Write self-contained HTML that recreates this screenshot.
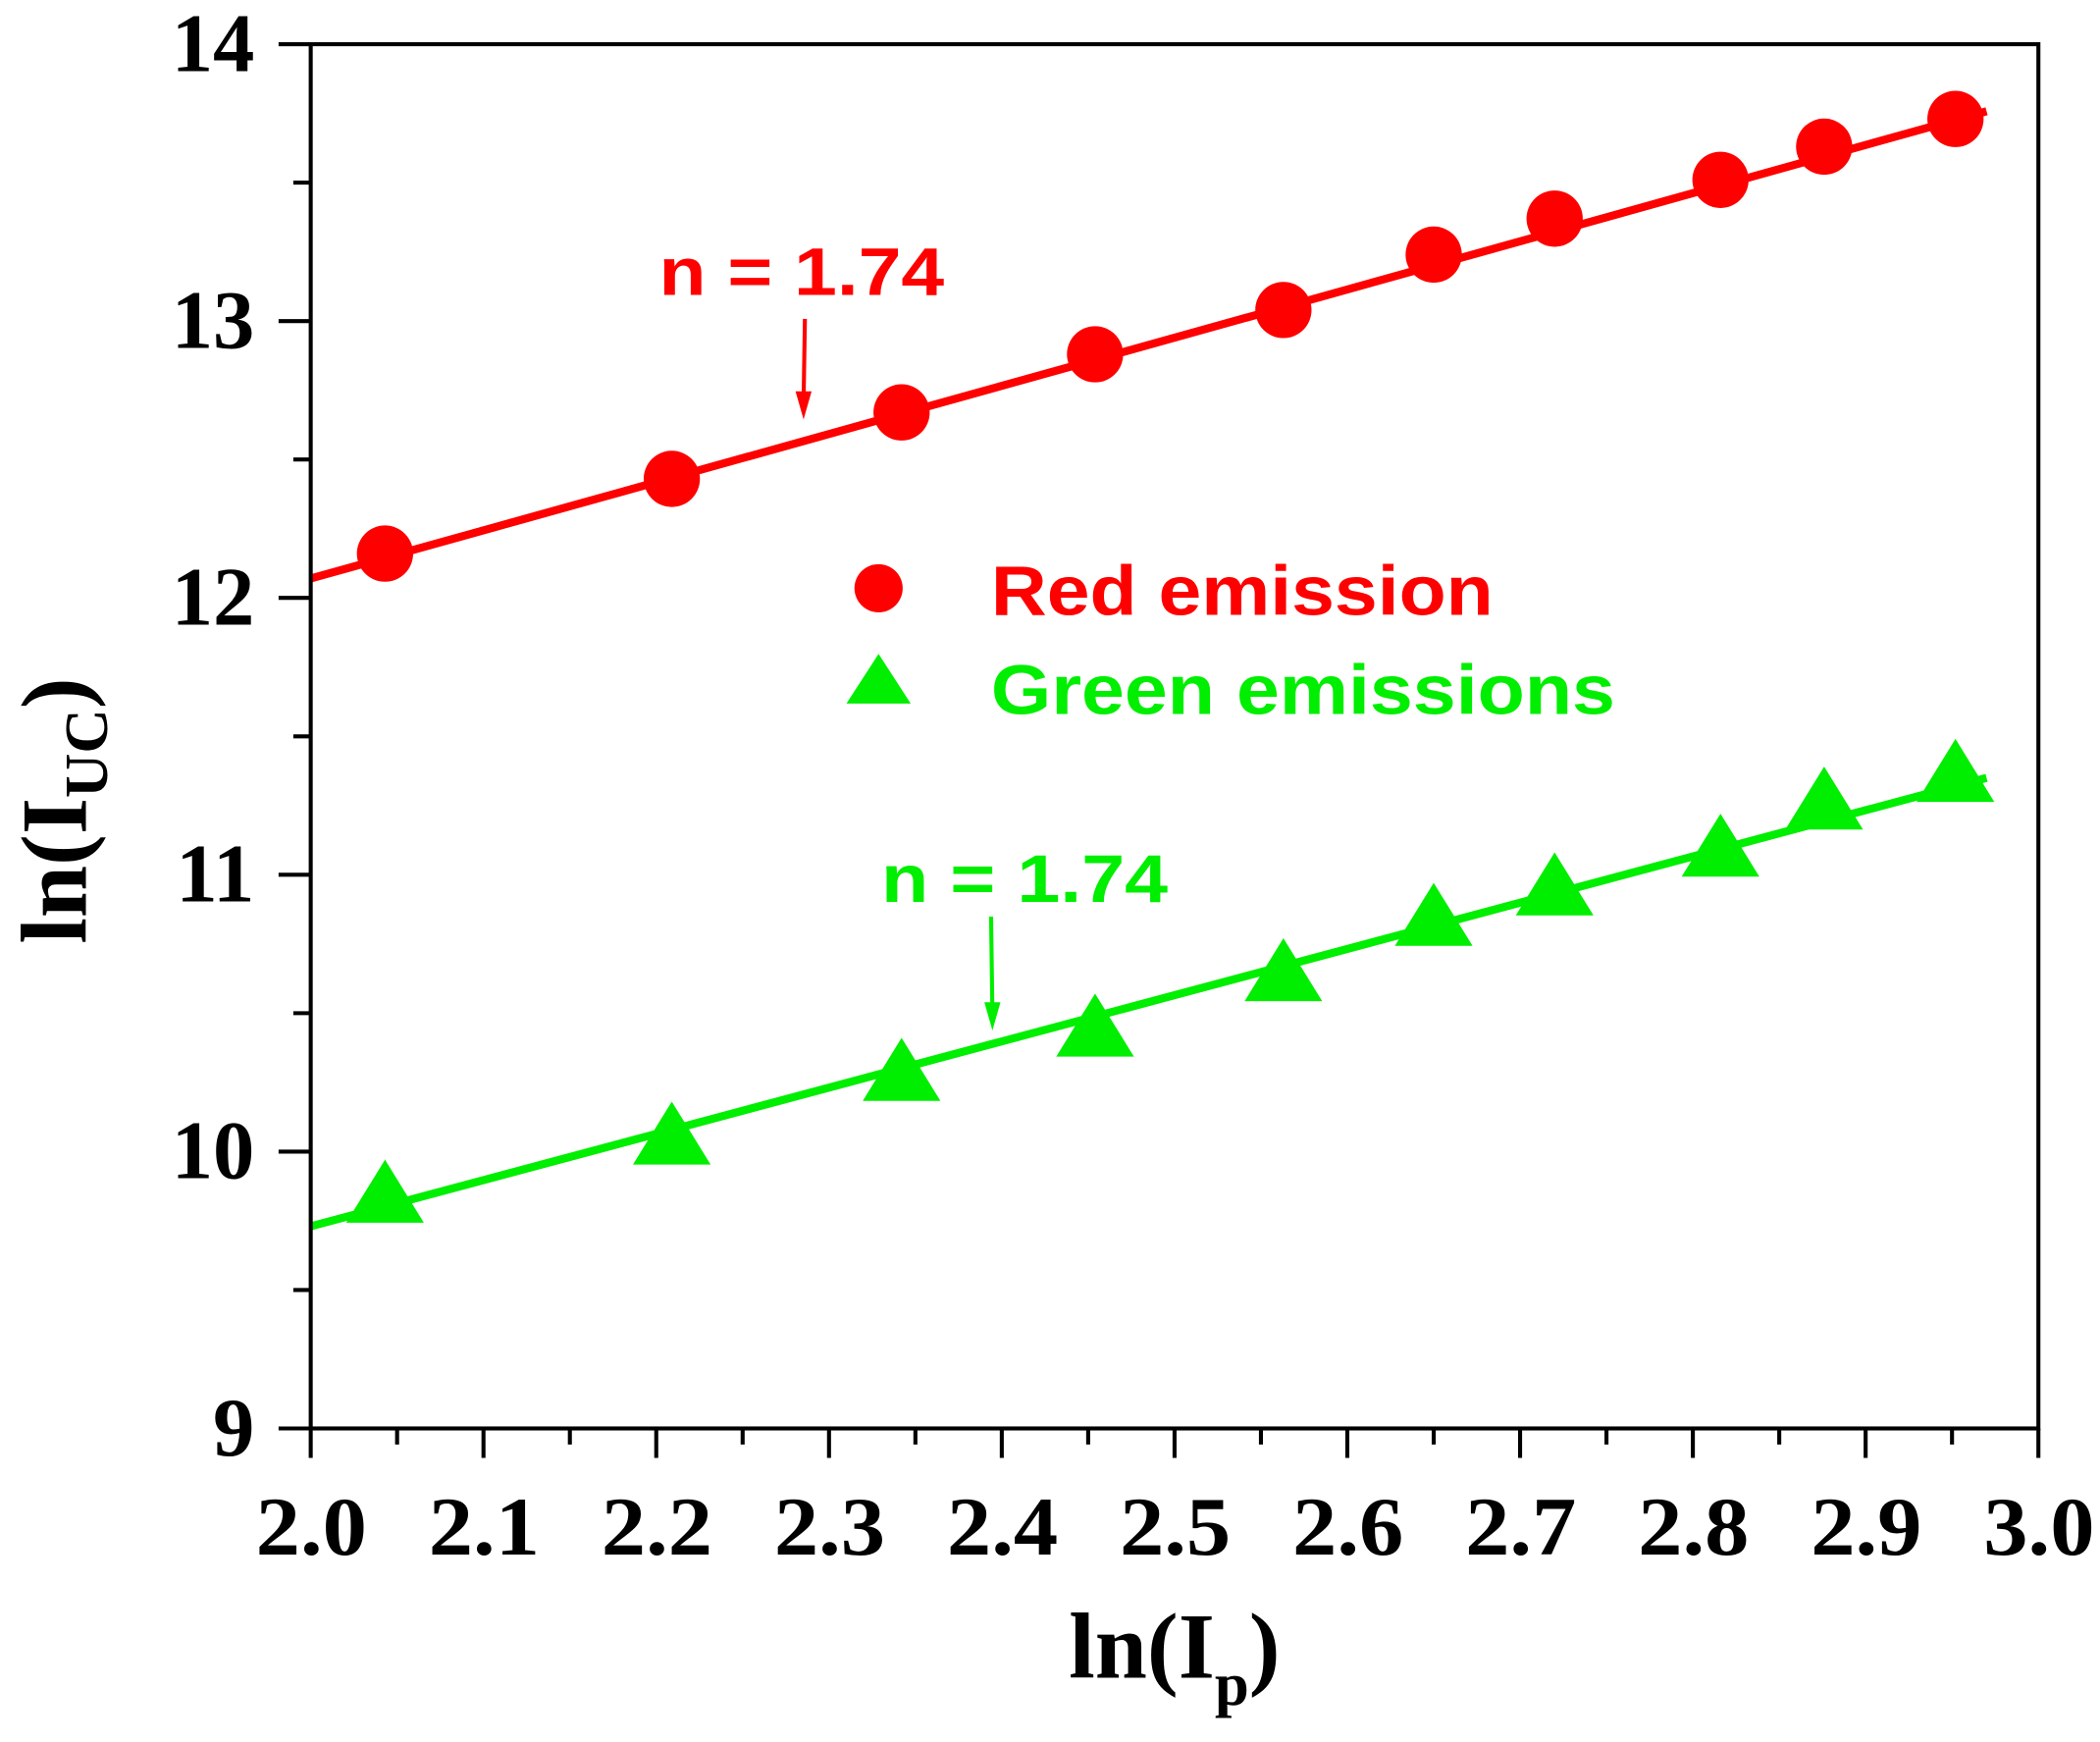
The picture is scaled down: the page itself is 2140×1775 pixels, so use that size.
<!DOCTYPE html>
<html><head><meta charset="utf-8"><style>html,body{margin:0;padding:0;background:#fff}svg{display:block}</style></head>
<body>
<svg id="chart" width="2140" height="1775" viewBox="0 0 1568 1300" preserveAspectRatio="none" xmlns="http://www.w3.org/2000/svg">
<rect x="0" y="0" width="1568" height="1300" fill="#fff"/>
<g id="marks"></g>
<rect x="232" y="33" width="1290" height="1033" fill="none" stroke="#000" stroke-width="3"/>
<g id="axes"></g>
<text transform="translate(64,605) rotate(-90)" text-anchor="middle" font-family="Liberation Serif, serif" font-weight="bold" font-size="70">ln(I<tspan font-size="46" dy="16">UC</tspan><tspan dy="-16">)</tspan></text>
<text x="877" y="1252" text-anchor="middle" font-family="Liberation Serif, serif" font-weight="bold" font-size="70">ln(I<tspan font-size="46" dy="20">p</tspan><tspan dy="-20">)</tspan></text>
<g font-family="Liberation Sans, sans-serif" font-weight="bold" font-size="52">
<circle cx="656" cy="439" r="18" fill="#ff0000"/>
<text x="740" y="459" fill="#ff0000" textLength="375" lengthAdjust="spacingAndGlyphs">Red emission</text>
<polygon points="656,488 680,525 632,525" fill="#00ee00"/>
<text x="740" y="533" fill="#00ee00" textLength="466" lengthAdjust="spacingAndGlyphs">Green emissions</text>
</g>
<g font-family="Liberation Sans, sans-serif" font-weight="bold" font-size="50">
<text x="492" y="220" fill="#ff0000" textLength="213" lengthAdjust="spacingAndGlyphs">n = 1.74</text>
<line x1="601" y1="238" x2="600" y2="300" stroke="#ff0000" stroke-width="3"/>
<polygon points="594,292 606,292 600,313" fill="#ff0000"/>
<text x="658" y="673" fill="#00ee00" textLength="214" lengthAdjust="spacingAndGlyphs">n = 1.74</text>
<line x1="740" y1="684" x2="741" y2="756" stroke="#00ee00" stroke-width="3"/>
<polygon points="735,748 747,748 741,769" fill="#00ee00"/>
</g>
</svg>
<script>
const xValues = [2.043,2.209,2.342,2.454,2.563,2.650,2.720,2.816,2.876,2.952];
const redValues = [12.16,12.43,12.67,12.88,13.04,13.24,13.37,13.51,13.63,13.73];
const greenValues = [9.84,10.05,10.28,10.44,10.64,10.84,10.95,11.09,11.26,11.36];
const xTickLabels = ["2.0","2.1","2.2","2.3","2.4","2.5","2.6","2.7","2.8","2.9","3.0"];
const yTickLabels = ["9","10","11","12","13","14"];
const redFit = [12.07,13.81];
const greenFit = [9.73,11.40];

const NS="http://www.w3.org/2000/svg";
const sx=v=>232+(v-2.0)*1290;
const sy=v=>1066-(v-9)*206.6;
function mk(tag,attrs,parent){const e=document.createElementNS(NS,tag);for(const k in attrs)e.setAttribute(k,attrs[k]);parent.appendChild(e);return e;}
const marks=document.getElementById('marks'), axes=document.getElementById('axes');

let l=mk('line',{x1:sx(2.0),y1:sy(redFit[0]),x2:sx(2.97),y2:sy(redFit[0]+(redFit[1]-redFit[0])*0.97),stroke:'#ff0000','stroke-width':6},marks);


let g=mk('line',{x1:sx(2.0),y1:sy(greenFit[0]),x2:sx(2.97),y2:sy(greenFit[0]+(greenFit[1]-greenFit[0])*0.97),stroke:'#00ee00','stroke-width':6},marks);



xValues.forEach((x,i)=>{
  const c=mk('circle',{cx:sx(x),cy:sy(redValues[i]),r:21,fill:'#ff0000'},marks);
  
  
  const cx=sx(x),cy=sy(greenValues[i]);
  const t=mk('polygon',{points:`${cx},${cy-27} ${cx+29},${cy+20} ${cx-29},${cy+20}`,fill:'#00ee00'},marks);
  
  
});

xTickLabels.forEach((lab,i)=>{
  const v=parseFloat(lab),x=sx(v);
  const t=mk('line',{x1:x,y1:1066,x2:x,y2:1088,stroke:'#000','stroke-width':3},axes);
  
  
  if(i<xTickLabels.length-1){const m=mk('line',{x1:sx(v+0.05),y1:1066,x2:sx(v+0.05),y2:1078,stroke:'#000','stroke-width':3},axes);
  
  }
  const tx=mk('text',{x:x-41,y:1160,textLength:83,lengthAdjust:'spacingAndGlyphs','font-family':'Liberation Serif, serif','font-weight':'bold','font-size':62},axes);
  tx.textContent=lab;
  
  
});
yTickLabels.forEach((lab,i)=>{
  const v=parseFloat(lab),y=sy(v);
  const t=mk('line',{x1:208,y1:y,x2:232,y2:y,stroke:'#000','stroke-width':3},axes);
  
  
  if(i<yTickLabels.length-1){const m=mk('line',{x1:219,y1:sy(v+0.5),x2:232,y2:sy(v+0.5),stroke:'#000','stroke-width':3},axes);
  
  }
  const tx=mk('text',{x:190,y:y+20,'text-anchor':'end','font-family':'Liberation Serif, serif','font-weight':'bold','font-size':62},axes);
  tx.textContent=lab;
  
  
});
</script>
</body></html>
